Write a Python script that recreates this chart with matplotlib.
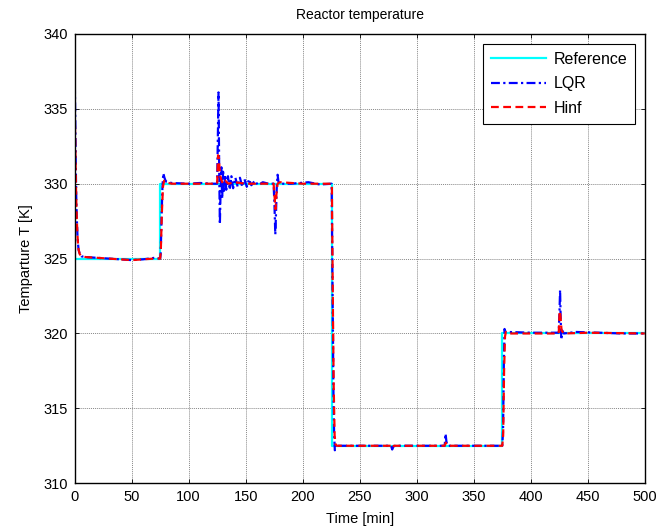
import matplotlib
matplotlib.use("Agg")
import matplotlib.pyplot as plt

# reference setpoint
ref_time = [0, 75, 75, 225.5, 225.5, 375, 375, 500]
ref_temp = [325, 325, 330, 330, 312.5, 312.5, 320, 320]

# LQR response
lqr_time = [0, 0.5, 1.0, 1.5, 2.0, 2.5, 3.0, 3.5, 4.5, 6, 10, 20, 30, 40, 50, 60, 70, 75,
            75.5, 76.2, 77.0, 77.8, 78.8, 80, 85, 100, 110, 120, 125,
            125.6, 126.2, 126.8, 127.4, 128.0, 128.7, 129.4, 130.2, 131, 132, 133, 134.5,
            136, 137.5, 139, 141, 143, 145, 147, 149, 151, 153, 155, 158, 161, 165, 170,
            174.5, 175.3, 176.0, 176.6, 177.3, 178.0, 178.8, 181, 190, 205, 215, 225.4,
            226.3, 227.0, 227.6, 228.2, 229, 230, 250, 270, 277.5, 278.5, 279.5, 281,
            300, 324.5, 325.3, 326.0, 326.8, 328, 350, 375,
            375.7, 376.4, 377.0, 377.8, 380, 400, 424.5,
            425.2, 425.7, 426.2, 426.8, 427.5, 429, 440, 460, 480, 500]
lqr_temp = [337.8, 335.0, 331.5, 329.0, 327.6, 326.6, 326.0, 325.6, 325.3, 325.15, 325.1, 325.05, 325.0, 324.95, 324.9, 324.95, 325.05, 325.0,
            325.3, 327.5, 329.7, 330.7, 330.4, 330.15, 330.05, 330.0, 330.05, 330.0, 330.0,
            333.0, 336.1, 331.0, 327.3, 329.5, 331.1, 329.0, 330.8, 329.4, 330.6, 329.6, 330.5,
            329.6, 330.5, 329.7, 330.4, 329.8, 330.4, 329.8, 330.3, 329.8, 330.3, 329.9, 330.2, 329.9, 330.1, 330.0,
            330.0, 328.5, 326.6, 328.0, 329.8, 330.6, 330.1, 330.0, 330.0, 330.1, 329.95, 330.0,
            322.0, 316.0, 313.2, 312.2, 312.6, 312.5, 312.5, 312.5, 312.5, 312.25, 312.45, 312.5,
            312.5, 312.5, 313.3, 312.8, 312.55, 312.5, 312.5, 312.5,
            313.5, 318.0, 320.3, 320.1, 320.1, 320.05, 320.05,
            321.5, 322.9, 321.0, 319.6, 320.2, 320.0, 320.1, 320.05, 320.0, 320.0]

# Hinf response
hinf_time = [0, 0.5, 1.0, 1.5, 2.0, 2.5, 3.0, 3.5, 4.5, 6, 10, 20, 30, 40, 50, 60, 70, 75,
             75.6, 76.5, 77.5, 78.5, 80, 85, 100, 120, 125,
             125.8, 126.6, 127.4, 128.5, 130, 132, 135, 140, 150, 160, 174.5,
             175.5, 176.2, 177.0, 178.0, 180, 200, 225.6,
             226.4, 227.2, 228.0, 228.8, 230, 250, 277.5, 278.5, 280, 300, 324.5,
             325.5, 327, 350, 375,
             375.8, 376.6, 377.4, 378.2, 380, 400, 424.5,
             425.3, 426.0, 427.0, 429, 450, 500]
hinf_temp = [335.5, 333.2, 330.8, 328.8, 327.5, 326.6, 326.0, 325.6, 325.3, 325.15, 325.1, 325.05, 325.0, 324.95, 324.9, 324.95, 325.0, 325.0,
             325.5, 328.0, 329.8, 330.2, 330.1, 330.0, 330.0, 330.0, 330.0,
             331.9, 331.7, 330.6, 330.3, 330.0, 330.2, 330.0, 330.1, 330.0, 330.0, 330.0,
             329.0, 328.3, 329.3, 330.0, 330.1, 330.0, 330.0,
             322.5, 316.5, 313.2, 312.6, 312.5, 312.5, 312.5, 312.35, 312.5, 312.5, 312.5,
             312.7, 312.5, 312.5, 312.5,
             313.2, 317.5, 319.8, 320.1, 320.0, 320.0, 320.0,
             321.5, 321.2, 320.2, 320.0, 320.05, 320.0]

x_ticks = [0, 50, 100, 150, 200, 250, 300, 350, 400, 450, 500]
y_ticks = [310, 315, 320, 325, 330, 335, 340]

plt.rcParams["font.family"] = ["Liberation Sans", "DejaVu Sans"]
plt.rcParams["font.size"] = 10

fig = plt.figure(figsize=(6.6, 5.31), dpi=100)
ax = fig.add_axes([0.113, 0.090, 0.864, 0.846])

ax.plot(ref_time, ref_temp, color="#00FFFF", linewidth=1.6, label="Reference")
ax.plot(lqr_time, lqr_temp, color="#0000FF", linewidth=1.6,
        linestyle=(0, (4, 1.5, 1, 1.5)), label="LQR")
ax.plot(hinf_time, hinf_temp, color="#FF0000", linewidth=1.6,
        linestyle=(0, (3.5, 2)), label="Hinf")

ax.set_xlim(0, 500)
ax.set_ylim(310, 340)
ax.set_xticks(x_ticks)
ax.set_yticks(y_ticks)
ax.tick_params(direction="in", top=True, right=True, length=3, width=0.6,
               labelsize=10.5, pad=5)
ax.grid(True, color="#888888", linestyle=(0, (1, 1)), linewidth=0.7)
for spine in ax.spines.values():
    spine.set_linewidth(1.0)

ax.set_title("Reactor temperature", fontsize=10, pad=11)
ax.set_xlabel("Time [min]", fontsize=10.5, labelpad=6)
ax.set_ylabel("Temparture T [K]", fontsize=10.5, labelpad=7)

leg = ax.legend(loc="upper right", fancybox=False, framealpha=1, edgecolor="black",
                handlelength=3.4, handletextpad=0.5, borderaxespad=0.6,
                fontsize=11.5, labelspacing=0.6, borderpad=0.5)
leg.get_frame().set_linewidth(0.8)

fig.savefig("out.png", dpi=100)
